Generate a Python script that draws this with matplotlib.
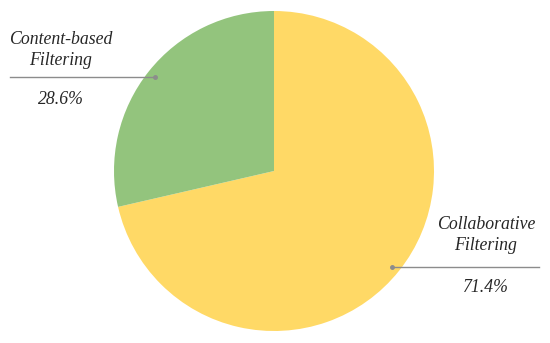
import matplotlib.pyplot as plt

labels = ['Collaborative\nFiltering', 'Content-based\nFiltering']
shares = [71.4, 28.6]
colors = ['#FFD966', '#93C47D']

W, H = 550, 343
fig = plt.figure(figsize=(5.5, 3.43), dpi=100)
ax = fig.add_axes([0, 0, 1, 1])

cx, cy, r = 274, H - 171, 160
ax.pie(shares, colors=colors, startangle=90, counterclock=False,
       center=(cx, cy), radius=r, frame=True)
ax.set_xlim(0, W)
ax.set_ylim(0, H)
ax.set_aspect('equal')
ax.axis('off')

font = dict(family='Liberation Serif', style='italic', fontsize=12.8, color='#262626',
            ha='center', va='center', linespacing=1.3)

# leader lines + labels (pixel layout from the reference)
callouts = [
    # label index, line x0, x1, line y, text x, text y, pct y
    (1, 10, 155, 77, 61, 50, 100),
    (0, 392, 539, 267, 486, 235, 287),
]
for i, x0, x1, ly, tx, ty, py in callouts:
    ax.plot([x0, x1], [H - ly, H - ly], color='#8c8c8c', lw=1)
    dot_x = x1 if i == 1 else x0
    ax.plot(dot_x, H - ly, 'o', color='#8c8c8c', ms=2.5)
    ax.text(tx, H - ty, labels[i], **font)
    ax.text(tx, H - py, f'{shares[i]:.1f}%', **font)

fig.savefig('out.png', dpi=100)
